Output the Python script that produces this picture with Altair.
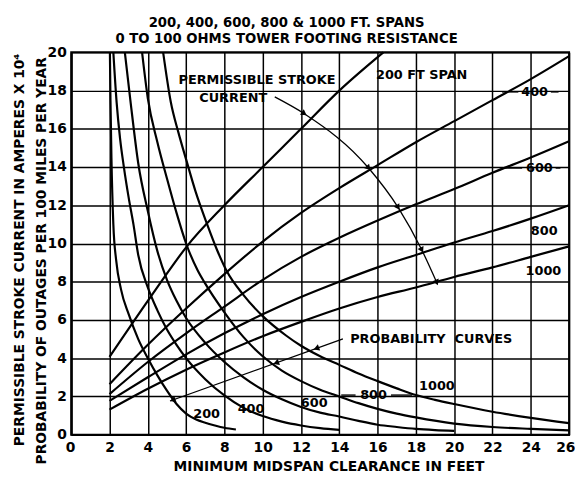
import altair as alt
import pandas as pd

# ---------------- data ----------------
spans = ["200", "400", "600", "800", "1000"]

# Permissible stroke current lines (amperes x 10^4)
stroke_200_x = [2, 4, 4.7, 6, 8, 10, 12, 14, 16.3]
stroke_200_y = [4.07, 7.0, 8.0, 9.8, 12.0, 14.0, 16.0, 18.0, 20.0]
stroke_x = [2, 4, 6, 8, 10, 12, 14, 16, 18, 20, 22, 24, 26]
stroke_400_y = [2.64, 4.7, 6.6, 8.4, 10.1, 11.6, 12.9, 14.1, 15.3, 16.4, 17.5, 18.6, 19.8]
stroke_600_y = [2.12, 3.8, 5.3, 6.7, 8.1, 9.3, 10.3, 11.2, 12.05, 12.85, 13.7, 14.5, 15.35]
stroke_800_y = [1.77, 3.0, 4.2, 5.3, 6.3, 7.2, 8.0, 8.75, 9.4, 10.05, 10.65, 11.3, 12.0]
stroke_1000_y = [1.31, 2.4, 3.4, 4.3, 5.15, 5.9, 6.6, 7.2, 7.7, 8.25, 8.75, 9.3, 9.85]

# Probability curves (outages per 100 miles per year)
prob_200_x = [2.02, 2.05, 2.1, 2.2, 2.35, 2.6, 3, 3.5, 4, 4.5, 5, 5.5, 6, 6.5, 7, 7.5, 8, 8.6]
prob_200_y = [20, 17.5, 14.5, 11, 9.1, 7.6, 6.3, 5.0, 4.0, 3.1, 2.3, 1.6, 1.1, 0.8, 0.62, 0.48, 0.36, 0.27]
prob_400_x = [2.2, 2.37, 2.55, 2.75, 3, 3.25, 3.5, 4, 4.5, 5, 5.5, 6, 7, 8, 9, 10, 11, 12, 13, 14]
prob_400_y = [20, 17.4, 15.5, 14, 12.4, 11, 9.4, 7.7, 6.5, 5.5, 4.7, 4.0, 2.9, 2.05, 1.4, 0.97, 0.68, 0.48, 0.34, 0.25]
prob_600_x = [2.8, 3.1, 3.5, 4, 4.5, 5, 5.5, 6, 7, 8, 9, 10, 11, 12, 13, 14, 15, 16, 17, 18, 19, 20]
prob_600_y = [20, 17.4, 14.2, 11.7, 9.6, 8.1, 7.0, 6.1, 4.8, 3.8, 3.0, 2.35, 1.85, 1.45, 1.15, 0.95, 0.72, 0.52, 0.4, 0.3, 0.24, 0.2]
prob_800_x = [3.7, 4, 4.5, 5, 5.5, 6, 6.6, 7, 8, 9, 10, 11, 12, 13, 14, 15, 16, 17, 18, 20, 22, 24, 26]
prob_800_y = [20, 17.6, 15.3, 13.4, 11.6, 10.0, 8.6, 7.9, 6.4, 5.1, 4.1, 3.35, 2.8, 2.35, 2.0, 1.65, 1.35, 1.1, 0.9, 0.58, 0.4, 0.3, 0.22]
prob_1000_x = [4.8, 5.2, 5.6, 6, 6.5, 7.1, 7.6, 8.1, 9, 10, 11.2, 12, 13, 14, 15, 16, 17, 18, 19, 20, 22, 24, 26]
prob_1000_y = [20, 17.4, 15.8, 14.4, 12.7, 11, 9.7, 8.6, 7.3, 6.2, 5.2, 4.65, 4.1, 3.65, 3.2, 2.8, 2.42, 2.07, 1.82, 1.6, 1.2, 0.88, 0.6]

x_ticks = list(range(0, 27, 2))
y_ticks = list(range(0, 21, 2))

title_lines = ["200, 400, 600, 800 & 1000 FT. SPANS", "0 TO 100 OHMS TOWER FOOTING RESISTANCE"]
x_title = "MINIMUM MIDSPAN CLEARANCE IN FEET"
y_title_lines = ["PERMISSIBLE STROKE CURRENT IN AMPERES X 10\u2074",
                 "PROBABILITY OF OUTAGES PER 100 MILES PER YEAR"]

# ---------------- tables ----------------
rows = []
for s, xs, ys in [("200", stroke_200_x, stroke_200_y), ("400", stroke_x, stroke_400_y),
                  ("600", stroke_x, stroke_600_y), ("800", stroke_x, stroke_800_y),
                  ("1000", stroke_x, stroke_1000_y)]:
    for i, (a, b) in enumerate(zip(xs, ys)):
        rows.append({"series": "S" + s, "x": a, "y": b, "o": i})
for s, xs, ys in [("200", prob_200_x, prob_200_y), ("400", prob_400_x, prob_400_y),
                  ("600", prob_600_x, prob_600_y), ("800", prob_800_x, prob_800_y),
                  ("1000", prob_1000_x, prob_1000_y)]:
    for i, (a, b) in enumerate(zip(xs, ys)):
        rows.append({"series": "P" + s, "x": a, "y": b, "o": i})
curves = pd.DataFrame(rows)

FONT = "DejaVu Sans"

xaxis = alt.Axis(values=x_ticks, grid=True, ticks=False, title=None, labelFontSize=14,
                 labelFontWeight="bold", labelFont=FONT, labelColor="black", labelPadding=6,
                 domainColor="black", domainWidth=2, gridColor="black", gridWidth=1.5,
                 gridOpacity=1, labelFlush=True, labelFlushOffset=6)
yaxis = alt.Axis(values=y_ticks, grid=True, ticks=False, title=None, labelFontSize=14,
                 labelFontWeight="bold", labelFont=FONT, labelColor="black", labelPadding=5,
                 domainColor="black", domainWidth=2, gridColor="black", gridWidth=1.5,
                 gridOpacity=1, labelFlush=False)


def X(f="x"):
    return alt.X(f + ":Q", scale=alt.Scale(domain=[0, 26], nice=False, zero=False), axis=xaxis)


def Y(f="y"):
    return alt.Y(f + ":Q", scale=alt.Scale(domain=[0, 20], nice=False, zero=False), axis=yaxis)


lines = alt.Chart(curves).mark_line(color="black", strokeWidth=2.2, interpolate="monotone").encode(
    x=X(), y=Y(), detail="series:N", order="o:Q")

# curve labels
ann = pd.DataFrame([
    {"x": 9.7, "y": 18.55, "t": "PERMISSIBLE STROKE"},
    {"x": 8.46, "y": 17.62, "t": "CURRENT"},
    {"x": 18.3, "y": 18.8, "t": "200 FT SPAN"},
    {"x": 24.2, "y": 17.93, "t": "400"},
    {"x": 24.45, "y": 13.95, "t": "600"},
    {"x": 24.7, "y": 10.65, "t": "800"},
    {"x": 24.66, "y": 8.58, "t": "1000"},
    {"x": 18.8, "y": 5.01, "t": "PROBABILITY\u00a0\u00a0CURVES"},
    {"x": 7.07, "y": 1.09, "t": "200"},
    {"x": 9.39, "y": 1.34, "t": "400"},
    {"x": 12.69, "y": 1.65, "t": "600"},
    {"x": 15.79, "y": 2.07, "t": "800"},
    {"x": 19.1, "y": 2.53, "t": "1000"},
])
labels = alt.Chart(ann).mark_text(font=FONT, fontSize=13, fontWeight="bold", color="black",
                                  align="center", baseline="middle").encode(
    x=X(), y=Y(), text="t:N")

# leaders (horizontal dashes beside labels)
lead = pd.DataFrame([
    {"x": 22.5, "x2": 23.35, "y": 17.93},
    {"x": 25.05, "x2": 25.45, "y": 17.93},
    {"x": 22.5, "x2": 23.55, "y": 13.95},
    {"x": 25.3, "x2": 25.55, "y": 13.95},
    {"x": 14.1, "x2": 14.85, "y": 2.07},
    {"x": 16.7, "x2": 17.8, "y": 2.07},
])
leaders = alt.Chart(lead).mark_rule(color="black", strokeWidth=1.4).encode(
    x=X(), x2="x2:Q", y=Y())

# arrow from "PERMISSIBLE STROKE CURRENT"
arr = pd.DataFrame({"x": [10.63, 12.17, 15.53, 17.07, 18.31, 19.09],
                    "y": [17.67, 16.79, 13.95, 11.89, 9.66, 7.96]})
arrow_line = alt.Chart(arr).mark_line(color="black", strokeWidth=1.3, interpolate="monotone").encode(
    x=X(), y=Y())
heads = pd.DataFrame({"x": [12.17, 15.53, 17.07, 18.31, 19.09],
                      "y": [16.79, 13.95, 11.89, 9.66, 7.96],
                      "a": [35, 47, 57, 63, 67]})
arrow_heads = alt.Chart(heads).mark_point(shape="triangle-right", filled=True, size=45,
                                          color="black", opacity=1).encode(
    x=X(), y=Y(), angle=alt.Angle("a:Q", scale=None))

# leader from "PROBABILITY CURVES"
pl = pd.DataFrame({"x": [14.19, 5.16], "y": [5.01, 1.76]})
prob_line = alt.Chart(pl).mark_line(color="black", strokeWidth=1.3).encode(x=X(), y=Y())
ph = pd.DataFrame({"x": [12.8, 10.7, 5.3], "y": [4.51, 3.75, 1.81], "a": [160, 160, 160]})
prob_heads = alt.Chart(ph).mark_point(shape="triangle-right", filled=True, size=45,
                                      color="black", opacity=1).encode(
    x=X(), y=Y(), angle=alt.Angle("a:Q", scale=None))

# titles as text placed around the plot
tdf = pd.DataFrame({"t": title_lines, "yy": [-30, -13]})
titles = alt.Chart(tdf).mark_text(font=FONT, fontSize=13.4, fontWeight="bold", color="black",
                                  align="center", baseline="middle").encode(
    x=alt.value(218), y=alt.Y("yy:Q", scale=None), text="t:N")

xt = alt.Chart(pd.DataFrame({"t": [x_title]})).mark_text(
    font=FONT, fontSize=14, fontWeight="bold", color="black", align="center",
    baseline="middle").encode(x=alt.value(261), y=alt.value(420), text="t:N")

ydf = pd.DataFrame({"t": y_title_lines, "xx": [-52, -30], "yy": [200, 211]})
yt = alt.Chart(ydf).mark_text(font=FONT, fontSize=14, fontWeight="bold", color="black",
                              align="center", baseline="middle", angle=270).encode(
    x=alt.X("xx:Q", scale=None), y=alt.Y("yy:Q", scale=None), text="t:N")

chart = alt.layer(lines, leaders, arrow_line, arrow_heads, prob_line, prob_heads, labels,
                  titles, xt, yt).properties(
    width=504, height=387,
    autosize=alt.AutoSizeParams(type="none"),
    padding={"left": 64, "top": 42, "right": 6, "bottom": 42},
    background="white",
).configure_view(stroke="black", strokeWidth=2)

chart.save("out.html", embed_options={"renderer": "svg", "actions": False})
